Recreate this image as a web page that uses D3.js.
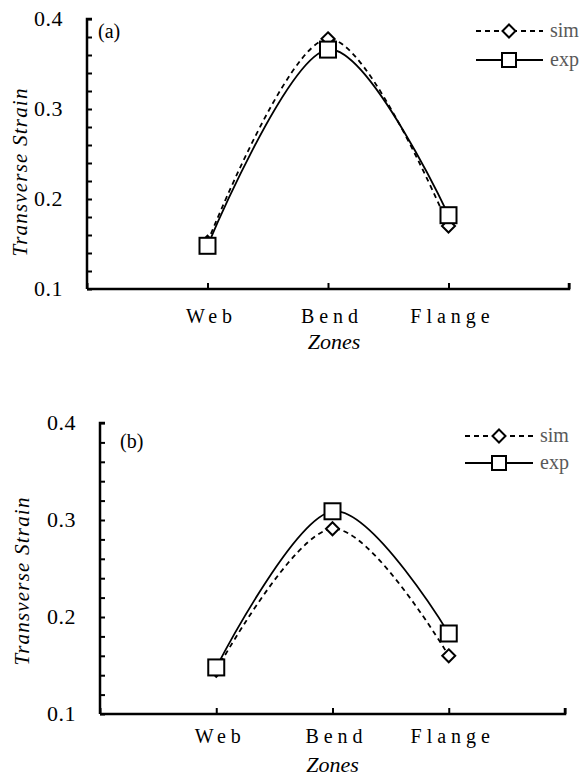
<!DOCTYPE html>
<html><head><meta charset="utf-8">
<script src="https://cdn.jsdelivr.net/npm/d3@7"></script>
<style>body{margin:0;background:#fff}svg{display:block}
text{font-family:"Liberation Serif","Times New Roman",serif}</style>
</head><body>
<script>
const zones = ["Web", "Bend", "Flange"];
const simA = [0.152, 0.378, 0.170];
const expA = [0.148, 0.366, 0.182];
const simB = [0.145, 0.291, 0.160];
const expB = [0.148, 0.309, 0.183];
const yTicks = [0.1, 0.2, 0.3, 0.4];
const seriesNames = ["sim", "exp"];

const svg = d3.select("body").append("svg").attr("width", 586).attr("height", 778);

function panel(cfg) {
  const g = svg.append("g");
  const x = d3.scaleLinear().domain([0, 4]).range([cfg.x0, cfg.x1]);
  const y = d3.scaleLinear().domain([0.1, 0.4]).range([cfg.yb, cfg.yt]);
  // y axis
  const ya = d3.axisRight(y).tickValues(d3.range(0.1, 0.4001, 0.02)).tickSize(5).tickFormat("");
  const yg = g.append("g").attr("transform", `translate(${cfg.x0},0)`).call(ya);
  yg.select(".domain").attr("stroke", "#000").attr("stroke-width", 2.5).attr("d", `M5,${cfg.yt}H0V${cfg.yb}`);
  yg.selectAll(".tick line").attr("stroke-width", 2);
  g.selectAll(".ylab").data(yTicks).join("text")
    .attr("x", cfg.x0 - 24).attr("y", d => y(d) + 7)
    .attr("text-anchor", "end").attr("font-size", 22).attr("letter-spacing", 0.5).text(d => d.toFixed(1));
  // x axis
  const xa = d3.axisTop(x).tickValues([0, 1, 2, 3, 4]).tickSize(6).tickFormat("");
  const xg = g.append("g").attr("transform", `translate(0,${cfg.yb})`).call(xa);
  xg.select(".domain").attr("stroke", "#000").attr("stroke-width", 2.5).attr("d", `M${cfg.x0},0H${cfg.x1}V-6`);
  xg.selectAll(".tick line").attr("stroke-width", 2);
  g.selectAll(".xlab").data(zones).join("text")
    .attr("x", (d, i) => x(i + 1) + 4).attr("y", cfg.yb + cfg.xlabDy)
    .attr("text-anchor", "middle").attr("font-size", 20)
    .attr("letter-spacing", 5).text(d => d);
  g.append("text").attr("x", x(2) + cfg.zonesDx).attr("y", cfg.yb + cfg.zonesDy)
    .attr("text-anchor", "middle").attr("font-style", "italic")
    .attr("font-size", 22).text("Zones");
  g.append("text").attr("transform", `translate(${cfg.ytx},${cfg.ytc}) rotate(-90)`)
    .attr("text-anchor", "middle").attr("font-style", "italic")
    .attr("font-size", 21).attr("letter-spacing", 1.2).text("Transverse Strain");
  g.append("text").attr("x", cfg.lx).attr("y", cfg.ly).attr("font-size", 20).text(cfg.label);

  const line = d3.line().x((d, i) => x(i + 1)).y(d => y(d)).curve(d3.curveCatmullRom.alpha(0));
  g.append("path").attr("d", line(cfg.sim)).attr("fill", "none").attr("stroke", "#000")
    .attr("stroke-width", 1.8).attr("stroke-dasharray", "5,4");
  g.append("path").attr("d", line(cfg.exp)).attr("fill", "none").attr("stroke", "#000")
    .attr("stroke-width", 1.8);
  const diamond = (cx, cy, r) => `M${cx},${cy - r}L${cx + r},${cy}L${cx},${cy + r}L${cx - r},${cy}Z`;
  g.selectAll(".dm").data(cfg.sim).join("path")
    .attr("d", (d, i) => diamond(x(i + 1), y(d), 6.5)).attr("fill", "#fff").attr("stroke", "#000").attr("stroke-width", 2);
  g.selectAll(".sq").data(cfg.exp).join("rect")
    .attr("x", (d, i) => x(i + 1) - 8).attr("y", d => y(d) - 8).attr("width", 16).attr("height", 16)
    .attr("fill", "#fff").attr("stroke", "#000").attr("stroke-width", 2);
  // legend
  const L = cfg.legend;
  seriesNames.forEach((s, k) => {
    const ly = L.y + k * L.dy;
    g.append("line").attr("x1", L.x1).attr("x2", L.x2).attr("y1", ly).attr("y2", ly)
      .attr("stroke", "#000").attr("stroke-width", 1.8).attr("stroke-dasharray", k === 0 ? "5,4" : null);
    if (k === 0) g.append("path").attr("d", diamond(L.xm, ly, 6.5)).attr("fill", "#fff").attr("stroke", "#000").attr("stroke-width", 2);
    else g.append("rect").attr("x", L.xm - 7).attr("y", ly - 7).attr("width", 14).attr("height", 14).attr("fill", "#fff").attr("stroke", "#000").attr("stroke-width", 2);
    g.append("text").attr("x", L.xt).attr("y", ly + 6).attr("font-size", 20)
      .attr("fill", "#595959").text(s);
  });
}

panel({x0: 87, x1: 569, yt: 19, yb: 289, sim: simA, exp: expA, label: "(a)", lx: 98, ly: 38,
  xlabDy: 34, zonesDy: 60, zonesDx: 6, ytx: 27, ytc: 172,
  legend: {x1: 476, x2: 543, xm: 509, xt: 550, y: 31, dy: 29}});
panel({x0: 100, x1: 565, yt: 423, yb: 714, sim: simB, exp: expB, label: "(b)", lx: 120, ly: 448,
  xlabDy: 29, zonesDy: 58, zonesDx: 0, ytx: 29, ytc: 581,
  legend: {x1: 465, x2: 533, xm: 499, xt: 540, y: 436, dy: 27}});
</script>
</body></html>
